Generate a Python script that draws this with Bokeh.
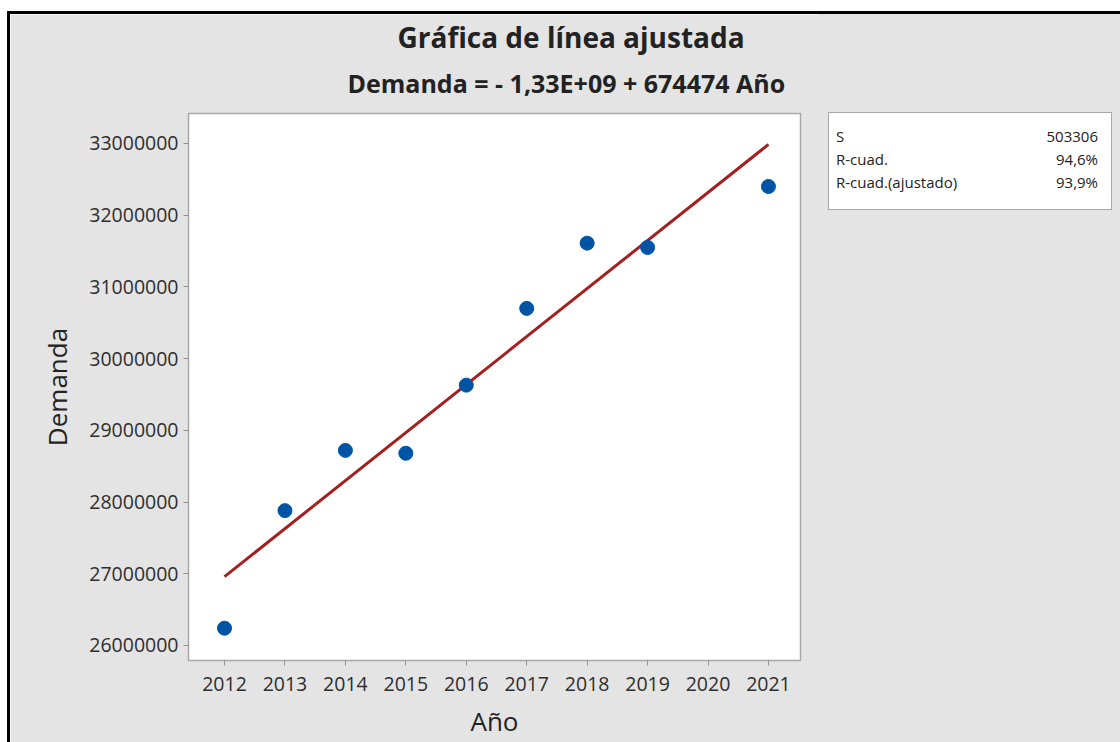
import numpy as np
from bokeh.plotting import figure
from bokeh.layouts import row
from bokeh.models import Range1d, FixedTicker, BasicTickFormatter, Title, Div
from bokeh.embed import file_html
from bokeh.resources import INLINE

# ---- data ----
years = [2012, 2013, 2014, 2015, 2016, 2017, 2018, 2019, 2021]
demanda = [26240000, 27880000, 28720000, 28680000, 29630000, 30700000, 31610000, 31550000, 32400000]
x_ticks = [2012, 2013, 2014, 2015, 2016, 2017, 2018, 2019, 2020, 2021]
y_ticks = [26000000, 27000000, 28000000, 29000000, 30000000, 31000000, 32000000, 33000000]
title_text = "Gráfica de línea ajustada"
subtitle_text = "Demanda = - 1,33E+09 + 674474 Año"
stats_names = ["S", "R-cuad.", "R-cuad.(ajustado)"]
stats_values = ["503306", "94,6%", "93,9%"]

# fitted line from the data
slope, intercept = np.polyfit(years, demanda, 1)
fit_x = [min(years), max(years)]
fit_y = [intercept + slope * xx for xx in fit_x]

FONT = "Open Sans"
BG = "#e4e4e4"
TXT = "#222222"

# ---- main plot ----
p = figure(width=808, height=728, output_backend="svg", toolbar_location=None,
           x_range=Range1d(2011.404, 2021.53), y_range=Range1d(25790000, 33418000),
           min_border_left=178, min_border_right=18, min_border_top=99, min_border_bottom=82,
           background_fill_color="white", border_fill_color=BG)

p.outline_line_color = "#a8a8a8"
p.outline_line_width = 1.5
p.xgrid.visible = False
p.ygrid.visible = False

for ax in (p.xaxis[0], p.yaxis[0]):
    ax.axis_line_color = None
    ax.major_tick_line_color = "#909090"
    ax.major_tick_out = 5
    ax.major_tick_in = 0
    ax.minor_tick_line_color = None
    ax.major_label_text_font = FONT
    ax.major_label_text_font_size = "19.5px"
    ax.major_label_text_color = "#2e2e2e"
    ax.axis_label_text_font = FONT
    ax.axis_label_text_font_style = "normal"
    ax.axis_label_text_font_size = "26px"
    ax.axis_label_text_color = TXT

p.xaxis.ticker = FixedTicker(ticks=x_ticks)
p.yaxis.ticker = FixedTicker(ticks=y_ticks)
p.yaxis.formatter = BasicTickFormatter(use_scientific=False)
p.xaxis.axis_label = "Año"
p.yaxis.axis_label = "Demanda"
p.xaxis.major_label_standoff = 11
p.yaxis.major_label_standoff = 5
p.xaxis.axis_label_standoff = 9
p.yaxis.axis_label_standoff = 11

p.line(fit_x, fit_y, line_color="#a3201f", line_width=3)
p.scatter(years, demanda, size=14, fill_color="#0054a6", line_color="#0054a6")

# titles: first added sits nearest the frame
p.add_layout(Title(text=subtitle_text, align="left", offset=159, standoff=28,
                   text_font=FONT, text_font_size="25px", text_font_style="bold",
                   text_color=TXT), "above")
p.add_layout(Title(text=title_text, align="left", offset=209, standoff=-13,
                   text_font=FONT, text_font_size="28px", text_font_style="bold",
                   text_color=TXT), "above")

# ---- statistics box ----
rows_html = "".join(
    f'<div style="display:flex;justify-content:space-between;height:23px;line-height:23px;">'
    f'<span>{name}</span><span>{val}</span></div>'
    for name, val in zip(stats_names, stats_values)
)
box_html = (
    '<div style="margin:98px 0 0 10px;width:284px;height:98px;box-sizing:border-box;'
    'background:#ffffff;border:1.5px solid #a8a8a8;padding:12px 13px 0 7px;'
    f'font-family:\'{FONT}\';font-size:15px;color:{TXT};">' + rows_html + '</div>'
)
s = Div(text=box_html, width=302, height=728, margin=0,
        styles={"background-color": BG})

layout = row(p, s, styles={"margin-left": "7px", "margin-top": "11px",
                           "border-left": "3px solid #000", "border-top": "3px solid #000"})

open("out.html", "w").write(file_html(layout, INLINE))
